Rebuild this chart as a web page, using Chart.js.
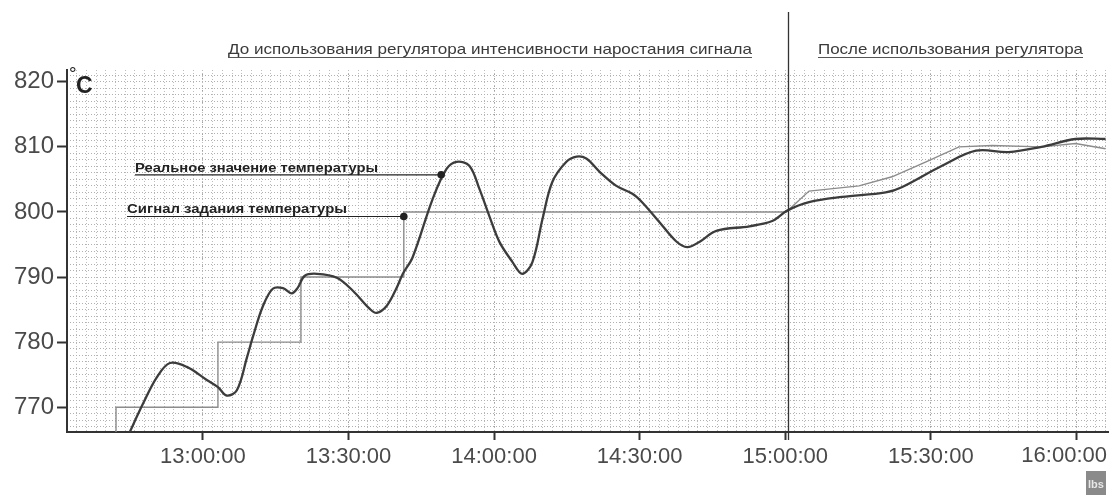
<!DOCTYPE html>
<html>
<head>
<meta charset="utf-8">
<script src="https://cdn.jsdelivr.net/npm/chart.js@4.4.1/dist/chart.umd.min.js"></script>
<style>
  body { margin: 0; background: #fff; }
  #wrap { width: 1110px; height: 502px; }
</style>
</head>
<body>
<div id="wrap"><canvas id="myChart" width="1110" height="502"></canvas></div>
<script>
// Время в минутах от полуночи (780 = 13:00)
const realTimes = [764.5, 767.7, 770.5, 773.2, 776.7, 780.8, 783.1, 784.9, 787.0, 789.1, 790.3, 792.3, 794.4, 796.5,
  798.3, 799.5, 801.0, 803.5, 807.6, 810.9, 814.4, 815.8, 817.9, 819.9, 821.2, 823.2, 827.3, 830.2, 832.3, 834.9,
  837.0, 839.1, 841.1, 843.8, 845.8, 847.9, 850.0, 852.0, 854.9, 857.0, 859.0, 861.7, 865.2, 868.5, 870.5, 874.0,
  877.5, 879.8, 882.3, 885.8, 892.6, 897.3, 900.4, 904.9, 911.7, 920.7, 924.0, 932.3, 939.3, 946.0, 952.8, 959.8, 966.0];
const realValues = [765.5, 770.6, 774.6, 776.8, 776.2, 774.2, 773.1, 771.8, 772.6, 777.7, 780.8, 785.4, 788.2, 788.3,
  787.5, 788.3, 790.2, 790.5, 789.9, 787.9, 785.1, 784.5, 785.6, 788.3, 790.5, 793.0, 801.9, 806.6, 807.7, 807.1,
  803.5, 799.2, 795.4, 792.3, 790.5, 792.3, 799.0, 804.6, 807.7, 808.5, 808.2, 806.2, 804.0, 802.8, 801.5, 798.5,
  795.5, 794.6, 795.4, 797.1, 797.8, 798.6, 800.2, 801.5, 802.3, 803.0, 803.8, 807.1, 809.4, 809.2, 810.0, 811.2, 811.2];

// Сигнал задания (ступеньки до 15:00, затем плавный рост)
const setTimes = [762.1, 762.1, 783.1, 783.1, 800.2, 800.2, 821.4, 821.4, 900.2, 904.9, 915.2, 922.0, 929.0, 935.8,
  942.6, 952.8, 959.8, 966.0];
const setValues = [765.0, 770.0, 770.0, 780.0, 780.0, 790.0, 790.0, 800.0, 800.0, 803.2, 804.0, 805.4, 807.7, 810.0,
  810.2, 810.0, 810.5, 809.7];

const xTicks = [780, 810, 840, 870, 900, 930, 960];
const yTicks = [770, 780, 790, 800, 810, 820];
const xMin = 752, xMax = 966.5;
const yMin = 766.2, yMax = 821.8;
const dividerTime = 900.6;

const topLabels = ['До использования регулятора интенсивности наростания сигнала', 'После использования регулятора'];
const annotLabels = ['Реальное значение температуры', 'Сигнал задания температуры'];
const annotTimes = [829.1, 821.4];
const annotValues = [805.7, 799.3];

const tickFont = '"Liberation Sans", Arial, sans-serif';

function fmtTime(v) {
  const h = Math.floor(v / 60), m = Math.round(v % 60);
  return h + ':' + String(m).padStart(2, '0') + ':00';
}

function fitText(ctx, text, x, y, w) {
  const m = ctx.measureText(text).width;
  ctx.save();
  ctx.translate(x, y);
  ctx.scale(w / m, 1);
  ctx.fillText(text, 0, 0);
  ctx.restore();
}

const labelsPlugin = {
  id: 'labelsPlugin',
  afterDatasetsDraw(chart) {
    const ctx = chart.ctx;
    const xs = chart.scales.x, ys = chart.scales.y;
    const area = chart.chartArea;
    ctx.save();

    // вертикальная граница 15:00
    const dx = Math.round(xs.getPixelForValue(dividerTime)) + 0.5;
    ctx.strokeStyle = '#333';
    ctx.lineWidth = 1.3;
    ctx.beginPath();
    ctx.moveTo(dx, 12);
    ctx.lineTo(dx, area.bottom + 8);
    ctx.stroke();

    // последняя подпись оси X прижата к правому краю
    ctx.fillStyle = '#4a4a4a';
    ctx.font = '22px ' + tickFont;
    ctx.textAlign = 'right';
    ctx.textBaseline = 'middle';
    ctx.fillText(fmtTime(xTicks[xTicks.length - 1]), 1107, area.bottom + 24);
    ctx.textAlign = 'left';
    ctx.textBaseline = 'alphabetic';

    // заголовки сверху
    ctx.fillStyle = '#3a3a3a';
    ctx.strokeStyle = '#555';
    ctx.lineWidth = 1;
    ctx.font = '15px ' + tickFont;
    const tl = [[228, 524], [818, 265]];
    topLabels.forEach((t, i) => {
      fitText(ctx, t, tl[i][0], 54, tl[i][1]);
      ctx.beginPath();
      ctx.moveTo(tl[i][0], 57.5);
      ctx.lineTo(tl[i][0] + tl[i][1], 57.5);
      ctx.stroke();
    });

    // подписи линий
    ctx.font = 'bold 12px ' + tickFont;
    ctx.fillStyle = '#222';
    ctx.strokeStyle = '#222';
    const al = [[135, 243], [127, 220]];
    annotLabels.forEach((t, i) => {
      const px = xs.getPixelForValue(annotTimes[i]);
      const py = ys.getPixelForValue(annotValues[i]);
      fitText(ctx, t, al[i][0], py - 3, al[i][1]);
      ctx.lineWidth = 1.2;
      ctx.beginPath();
      ctx.moveTo(al[i][0], py);
      ctx.lineTo(px, py);
      ctx.stroke();
      ctx.beginPath();
      ctx.arc(px, py, 3.8, 0, Math.PI * 2);
      ctx.fill();
    });

    // °C
    ctx.fillStyle = '#222';
    ctx.font = '19px ' + tickFont;
    ctx.fillText('°', 69, 80);
    ctx.font = 'bold 23px ' + tickFont;
    ctx.fillText('C', 76, 93);

    // значок в углу
    ctx.fillStyle = '#8a8a8a';
    ctx.fillRect(1086, 471, 20, 24);
    ctx.fillStyle = '#e8e8e8';
    ctx.font = 'bold 11px ' + tickFont;
    ctx.fillText('lbs', 1088, 488);
    ctx.restore();
  }
};

const ctx = document.getElementById('myChart').getContext('2d');
new Chart(ctx, {
  type: 'line',
  data: {
    datasets: [
      {
        label: 'Сигнал задания температуры',
        data: setTimes.map((t, i) => ({ x: t, y: setValues[i] })),
        borderColor: '#8c8c8c',
        borderWidth: 1.4,
        pointRadius: 0,
        tension: 0,
        order: 2
      },
      {
        label: 'Реальное значение температуры',
        data: realTimes.map((t, i) => ({ x: t, y: realValues[i] })),
        borderColor: '#3c3c3c',
        borderWidth: 2.3,
        pointRadius: 0,
        tension: 0.35,
        order: 1
      }
    ]
  },
  options: {
    responsive: false,
    animation: false,
    devicePixelRatio: 1,
    layout: { padding: { left: 0, top: 70, right: 2, bottom: 0 } },
    plugins: { legend: { display: false }, tooltip: { enabled: false } },
    scales: {
      x: {
        type: 'linear',
        min: xMin,
        max: xMax,
        afterBuildTicks: s => { s.ticks = xTicks.map(v => ({ value: v })); },
        afterFit: s => { s.height = 70; s.paddingLeft = 0; s.paddingRight = 0; },
        grid: { color: '#a0a0a0', tickColor: '#333', tickLength: 8, tickWidth: 2 },
        border: { color: '#333', width: 2, dash: [1, 3] },
        ticks: {
          color: '#4a4a4a',
          padding: 4,
          maxRotation: 0,
          font: { family: tickFont, size: 22 },
          callback: v => (v === xTicks[xTicks.length - 1] ? '' : fmtTime(v))
        }
      },
      y: {
        type: 'linear',
        min: yMin,
        max: yMax,
        afterBuildTicks: s => { s.ticks = yTicks.map(v => ({ value: v })); },
        afterFit: s => { s.width = 67; s.paddingTop = 0; s.paddingBottom = 0; },
        grid: { drawOnChartArea: false, tickColor: '#333', tickLength: 10, tickWidth: 2 },
        border: { color: '#333', width: 2 },
        ticks: {
          color: '#4a4a4a',
          padding: 3,
          font: { family: tickFont, size: 24 }
        }
      },
      xMinor: {
        type: 'linear',
        position: 'bottom',
        min: xMin,
        max: xMax,
        afterBuildTicks: s => {
          const t = [];
          for (let v = 754; v < xMax; v += 2) t.push({ value: v });
          s.ticks = t;
        },
        afterFit: s => { s.height = 0; },
        grid: { color: '#bdbdbd', drawTicks: false },
        border: { display: false, dash: [1, 2] },
        ticks: { display: false }
      },
      yMinor: {
        type: 'linear',
        position: 'left',
        min: yMin,
        max: yMax,
        afterBuildTicks: s => {
          const t = [];
          for (let v = 767; v < yMax; v += 1) t.push({ value: v });
          s.ticks = t;
        },
        afterFit: s => { s.width = 0; },
        grid: { color: '#b0b0b0', drawTicks: false },
        border: { display: false, dash: [1, 2] },
        ticks: { display: false }
      }
    }
  },
  plugins: [labelsPlugin]
});
</script>
</body>
</html>
